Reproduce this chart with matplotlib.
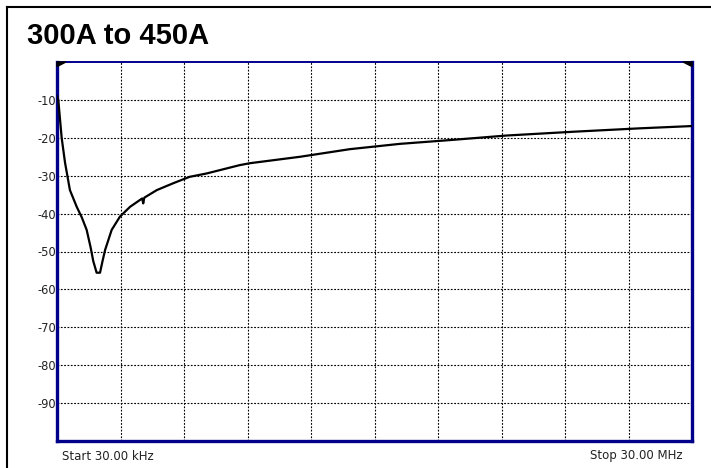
import matplotlib
matplotlib.use("Agg")
import matplotlib.pyplot as plt
from matplotlib.lines import Line2D
from matplotlib.patches import Polygon

# Frequency in MHz (linear sweep 30 kHz .. 30 MHz)
freq_mhz = [0.03, 0.09, 0.25, 0.41, 0.64, 0.96, 1.20, 1.43, 1.62, 1.74, 1.90, 2.06, 2.18, 2.30,
            2.61, 3.00, 3.48, 4.05, 4.10, 4.15, 4.74, 5.51, 6.29, 7.10, 8.66,
            9.14, 11.51, 13.85, 16.21, 18.58, 21.25, 24.40, 27.54, 30.00]
level_db = [-9.0, -10.0, -20.0, -26.6, -33.8, -38.2, -41.0, -44.3, -49.0, -52.5, -55.6, -55.6, -52.5, -49.6,
            -44.3, -40.8, -38.2, -36.0, -37.3, -35.8, -33.8, -32.0, -30.3, -29.4, -27.2,
            -26.7, -25.0, -23.0, -21.6, -20.6, -19.4, -18.4, -17.5, -16.9]

y_ticks = [-10, -20, -30, -40, -50, -60, -70, -80, -90]
y_tick_labels = ["-10", "-20", "-30", "-40", "-50", "-60", "-70", "-80", "-90"]
f_start, f_stop = 0.03, 30.0
n_xdiv = 10
title = "300A to 450A"
start_label = "Start 30.00 kHz"
stop_label = "Stop 30.00 MHz"

W, H = 711, 468
fig = plt.figure(figsize=(W / 100, H / 100), dpi=100)
ax = fig.add_axes([57 / W, 1 - 441 / H, (692 - 57) / W, (441 - 62) / H])

ax.plot(freq_mhz, level_db, color="black", lw=1.6, zorder=3, solid_joinstyle="round")

ax.set_xlim(f_start, f_stop)
ax.set_ylim(-100, 0)
step = (f_stop - f_start) / n_xdiv
xgrid = [f_start + step * i for i in range(1, n_xdiv)]
ax.set_xticks(xgrid)
ax.set_xticklabels([])
ax.set_yticks(y_ticks)
ax.set_yticklabels(y_tick_labels, fontsize=8.3, family="DejaVu Sans", color="#222222")
ax.tick_params(axis="both", length=0, pad=0.5)
ax.grid(True, color="black", lw=0.8, linestyle=(0, (1.6, 1.4)))

navy = "#00008b"
for side in ("left", "bottom", "right"):
    ax.spines[side].set_color(navy)
    ax.spines[side].set_linewidth(2.4)
ax.spines["top"].set_color(navy)
ax.spines["top"].set_linewidth(1.4)

# small corner markers
ax.add_patch(Polygon([[0, 1], [0.014, 1], [0, 0.988]], closed=True, transform=ax.transAxes,
                     color="black", clip_on=False, zorder=4))
ax.add_patch(Polygon([[1, 1], [0.986, 1], [1, 0.988]], closed=True, transform=ax.transAxes,
                     color="black", clip_on=False, zorder=4))

fig.text(27 / W, 1 - 36 / H, title, fontsize=21, fontweight="bold",
         family="Liberation Sans", va="center", ha="left")
fig.text(62 / W, 1 - 456 / H, start_label, fontsize=8.5, family="DejaVu Sans",
         va="center", ha="left", color="#222222")
fig.text(683 / W, 1 - 456 / H, stop_label, fontsize=8.5, family="DejaVu Sans",
         va="center", ha="right", color="#222222")

# outer frame (top and left)
fig.add_artist(Line2D([7 / W, 1.0], [1 - 7 / H, 1 - 7 / H], color="black", lw=1.5))
fig.add_artist(Line2D([7 / W, 7 / W], [0, 1 - 7 / H], color="black", lw=1.5))

fig.savefig("out.png", dpi=100)
